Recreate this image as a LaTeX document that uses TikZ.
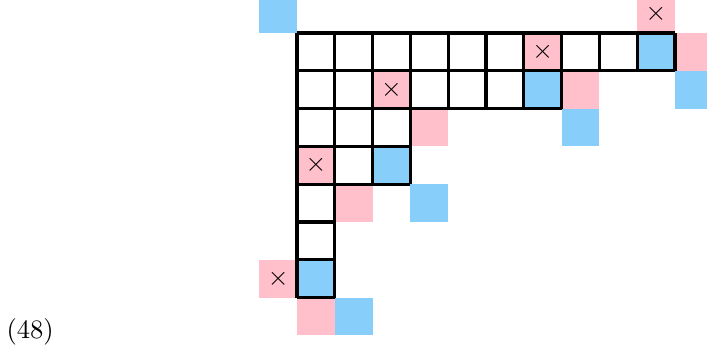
\documentclass[tikz,border=0pt]{standalone}
\usepackage{amsmath, amssymb}
\usepackage{xcolor}
\definecolor{pink-box}{HTML}{FFC0CB}
\definecolor{sky-box}{HTML}{87CEFA}
\definecolor{jet}{HTML}{000000}

\begin{document}
\begin{tikzpicture}[scale=0.5]
    \useasboundingbox (-7.857, 0.873) rectangle (10.847, -8.307);
    % coloured boxes
    \fill[sky-box] (-1, 1) rectangle ++(1, -1);
    \fill[pink-box] (9, 1) rectangle ++(1, -1);
    \fill[pink-box] (6, 0) rectangle ++(1, -1);
    \fill[sky-box] (9, 0) rectangle ++(1, -1);
    \fill[pink-box] (10, 0) rectangle ++(1, -1);
    \fill[pink-box] (2, -1) rectangle ++(1, -1);
    \fill[sky-box] (6, -1) rectangle ++(1, -1);
    \fill[pink-box] (7, -1) rectangle ++(1, -1);
    \fill[sky-box] (10, -1) rectangle ++(1, -1);
    \fill[pink-box] (3, -2) rectangle ++(1, -1);
    \fill[sky-box] (7, -2) rectangle ++(1, -1);
    \fill[pink-box] (0, -3) rectangle ++(1, -1);
    \fill[sky-box] (2, -3) rectangle ++(1, -1);
    \fill[pink-box] (1, -4) rectangle ++(1, -1);
    \fill[sky-box] (3, -4) rectangle ++(1, -1);
    \fill[pink-box] (-1, -6) rectangle ++(1, -1);
    \fill[sky-box] (0, -6) rectangle ++(1, -1);
    \fill[pink-box] (0, -7) rectangle ++(1, -1);
    \fill[sky-box] (1, -7) rectangle ++(1, -1);
    % the diagram
    \draw[very thick, color=jet] (0, 0) grid (10, -1);
    \draw[very thick, color=jet] (0, -1) grid (7, -2);
    \draw[very thick, color=jet] (0, -2) grid (3, -4);
    \draw[very thick, color=jet] (0, -4) grid (1, -7);
    % crosses
    \node[inner sep=0pt] (x1) at (9.5, 0.5) {$\times$};
    \node[inner sep=0pt] (x2) at (6.5, -0.5) {$\times$};
    \node[inner sep=0pt] (x3) at (2.5, -1.5) {$\times$};
    \node[inner sep=0pt] (x4) at (0.5, -3.5) {$\times$};
    \node[inner sep=0pt] (x5) at (-0.5, -6.5) {$\times$};
    \node (tag) at (-7.06, -7.91) {(48)};
  \end{tikzpicture}
\end{document}
